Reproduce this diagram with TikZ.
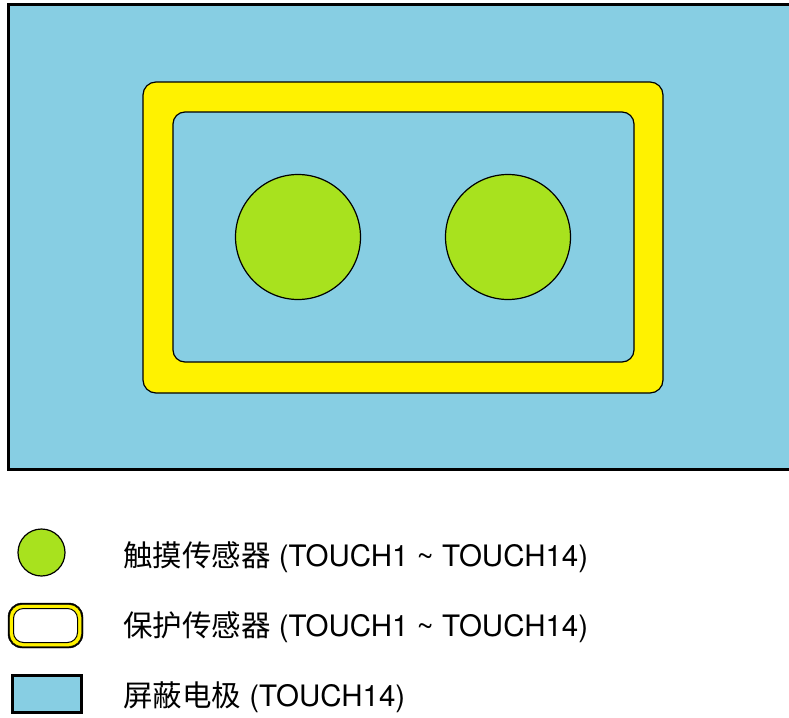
\documentclass[tikz,border=0pt]{standalone}
\usepackage{fontspec}
\setmainfont{TeX Gyre Heros}
\newfontfamily\cjk{Noto Sans CJK SC}
\definecolor{shieldblue}{RGB}{135,206,227}
\definecolor{guardyellow}{RGB}{255,242,0}
\definecolor{touchgreen}{RGB}{168,226,30}
\begin{document}
\begin{tikzpicture}[x=1pt,y=-1pt,
  shield/.style={fill=shieldblue,draw=black,line width=3pt},
  guard/.style={fill=guardyellow,draw=black,line width=1.2pt,rounded corners=13pt},
  hole/.style={fill=shieldblue,draw=black,line width=1.2pt,rounded corners=12pt},
  touch/.style={circle,fill=touchgreen,draw=black,line width=1.2pt,inner sep=0pt},
  legtext/.style={anchor=west,inner sep=0pt,font=\fontsize{29.5}{34}\selectfont}]
\useasboundingbox (0,0) rectangle (789,717);
\clip (0,0) rectangle (789,717);
% main shield electrode
\draw[shield] (8.5,4.5) rectangle (820,469);
% guard ring
\draw[guard] (143,82) rectangle (663,393);
\draw[hole] (173,112) rectangle (634,362);
% touch sensors
\node[touch,minimum size=125pt] (t1) at (298,237) {};
\node[touch,minimum size=125pt] (t2) at (508,237) {};
% legend
\node[touch,minimum size=47pt] (l1) at (41.5,552.5) {};
\draw[fill=black,rounded corners=14pt] (8,603) rectangle (83,648);
\draw[fill=guardyellow,rounded corners=12.5pt] (9.5,604.5) rectangle (81.5,646.5);
\draw[fill=white,draw=black,line width=1pt,rounded corners=10pt] (13.5,608.5) rectangle (77.5,642.5);
\coordinate (l2) at (45,625.5);
\draw[shield] (12,675) rectangle (81,712);
\coordinate (l3) at (46,693);
\node[legtext] (tx1) at (123,557) {{\cjk 触摸传感器} (TOUCH1 \char`~{} TOUCH14)};
\node[legtext] (tx2) at (123,627) {{\cjk 保护传感器} (TOUCH1 \char`~{} TOUCH14)};
\node[legtext] (tx3) at (123,697) {{\cjk 屏蔽电极} (TOUCH14)};
\end{tikzpicture}
\end{document}
